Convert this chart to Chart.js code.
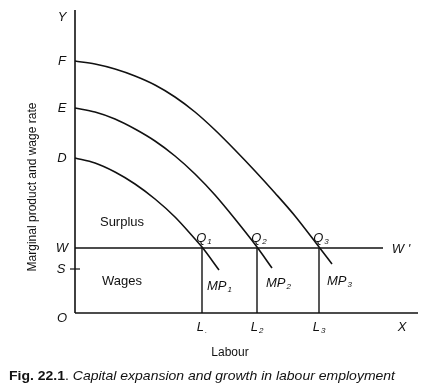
<!DOCTYPE html>
<html><head><meta charset="utf-8">
<script src="https://cdn.jsdelivr.net/npm/chart.js@4"></script>
<style>html,body{margin:0;padding:0;background:#fff}</style>
</head><body>
<canvas id="c" width="422" height="391"></canvas>
<script>
// ---- data (labour on x, marginal product / wage on y) ----
const labourD = [0, 20, 40, 60, 80, 100, 120, 127, 144];
const mpD     = [155, 150, 141, 129, 114, 96, 74, 66, 43];
const labourE = [0, 20, 40, 60, 80, 100, 120, 140, 160, 182, 197];
const mpE     = [205, 201, 194, 184, 172, 157, 139, 118, 94, 66, 45];
const labourF = [0, 20, 40, 60, 80, 100, 120, 140, 160, 180, 200, 220, 244, 257];
const mpF     = [252, 249, 244, 237, 228, 216, 201, 183, 163, 142, 120, 97, 66, 49];
const curveStartLabels = ['D', 'E', 'F'];
const curveEndLabels = ['MP', 'MP', 'MP'];
const curveSubs = ['1', '2', '3'];
const wageRate = 65;          // W
const subsistence = 44;       // S
const employment = [127, 182, 244];   // L1, L2, L3
const employmentLabels = ['L', 'L', 'L'];
const employmentSubs = ['.', '2', '3'];
const wageLineEnd = 308;
const xMax = 343, yMax = 303;

const pts = (xs, ys) => xs.map((x, i) => ({x, y: ys[i]}));
const black = '#111';
const lineDs = (data, w, extra) => Object.assign({
  data, showLine: true, borderColor: black, borderWidth: w, pointRadius: 0,
  fill: false, clip: false
}, extra || {});

const datasets = [
  lineDs([{x:0,y:0},{x:0,y:yMax}], 1.6),
  lineDs([{x:0,y:0},{x:xMax,y:0}], 1.6),
  lineDs([{x:0,y:wageRate},{x:wageLineEnd,y:wageRate}], 1.4),
  lineDs([{x:-5,y:subsistence},{x:5,y:subsistence}], 1.2),
  ...employment.map(l => lineDs([{x:l,y:0},{x:l,y:wageRate}], 1.4)),
  lineDs(pts(labourD, mpD), 1.6, {cubicInterpolationMode:'monotone'}),
  lineDs(pts(labourE, mpE), 1.6, {cubicInterpolationMode:'monotone'}),
  lineDs(pts(labourF, mpF), 1.6, {cubicInterpolationMode:'monotone'})
];

const FONT = '"Liberation Sans", Arial, Helvetica, sans-serif';

function subText(ctx, main, sub, x, y, size, align) {
  ctx.font = 'italic ' + size + 'px ' + FONT;
  const mw = ctx.measureText(main).width;
  const ss = Math.round(size * 0.65);
  ctx.font = 'italic ' + ss + 'px ' + FONT;
  const sw = ctx.measureText(sub).width;
  const total = mw + 1 + sw;
  let x0 = x;
  if (align === 'center') x0 = x - total / 2;
  else if (align === 'right') x0 = x - total;
  ctx.textAlign = 'left';
  ctx.textBaseline = 'middle';
  ctx.font = 'italic ' + size + 'px ' + FONT;
  ctx.fillText(main, x0, y);
  ctx.font = 'italic ' + ss + 'px ' + FONT;
  ctx.fillText(sub, x0 + mw + 1, y + size * 0.3);
}

const textPlugin = {
  id: 'texts',
  afterDatasetsDraw(chart) {
    const ctx = chart.ctx, xs = chart.scales.x, ys = chart.scales.y;
    const px = v => xs.getPixelForValue(v), py = v => ys.getPixelForValue(v);
    ctx.save();
    ctx.fillStyle = black;
    ctx.textBaseline = 'middle';
    const italic = (t, x, y, s, a) => {
      ctx.font = 'italic ' + s + 'px ' + FONT; ctx.textAlign = a || 'center'; ctx.fillText(t, x, y);
    };
    const plain = (t, x, y, s, a) => {
      ctx.font = s + 'px ' + FONT; ctx.textAlign = a || 'center'; ctx.fillText(t, x, y);
    };
    const ax = px(0) - 13;
    italic('Y', ax, py(yMax) + 7, 13);
    const starts = [mpD[0], mpE[0], mpF[0]];
    curveStartLabels.forEach((t, i) => italic(t, ax, py(starts[i]), 13));
    italic('W', ax, py(wageRate), 13);
    italic('S', ax - 1, py(subsistence), 13);
    italic('O', ax, py(0) + 5, 13);
    italic('X', px(xMax) - 16, py(0) + 14, 13);
    employment.forEach((l, i) => subText(ctx, employmentLabels[i], employmentSubs[i], px(l), py(0) + 14, 13, 'center'));
    employment.forEach((l, i) => subText(ctx, 'Q', curveSubs[i], px(l) + 2, py(wageRate) - 10, 13, 'center'));
    const ends = [[labourD, mpD], [labourE, mpE], [labourF, mpF]];
    const mpOff = [[-12, 16], [-6, 15], [-5, 17]];
    ends.forEach(([lx, ly], i) => {
      const n = lx.length - 1;
      subText(ctx, curveEndLabels[i], curveSubs[i], px(lx[n]) + mpOff[i][0], py(ly[n]) + mpOff[i][1], 13, 'left');
    });
    italic("W '", px(wageLineEnd) + 18, py(wageRate) + 1, 13);
    plain('Surplus', 122, py(wageRate) - 26, 13);
    plain('Wages', 122, py(wageRate) + 33, 13);
    plain('Labour', 230, 353, 12);
    // y-axis title
    ctx.save();
    ctx.translate(33, 187);
    ctx.rotate(-Math.PI / 2);
    plain('Marginal product and wage rate', 0, 0, 12);
    ctx.restore();
    // caption
    const y = 376;
    const parts = [
      ['bold 13px ' + FONT, 'Fig. 22.1'],
      ['13px ' + FONT, '. '],
      ['italic 13px ' + FONT, 'Capital expansion and growth in labour employment']
    ];
    let w = 0;
    parts.forEach(p => { ctx.font = p[0]; w += ctx.measureText(p[1]).width; });
    const sx = 386 / w;
    ctx.save();
    ctx.translate(9, y);
    ctx.scale(sx, 1);
    let cx = 0;
    ctx.textAlign = 'left';
    parts.forEach(p => { ctx.font = p[0]; ctx.fillText(p[1], cx, 0); cx += ctx.measureText(p[1]).width; });
    ctx.restore();
    ctx.restore();
  }
};

new Chart(document.getElementById('c'), {
  type: 'scatter',
  data: { datasets },
  options: {
    responsive: false, animation: false, devicePixelRatio: 1,
    layout: { padding: { left: 75, right: 4, top: 10, bottom: 78 } },
    plugins: { legend: { display: false }, tooltip: { enabled: false } },
    scales: {
      x: { type: 'linear', min: 0, max: xMax, display: false },
      y: { type: 'linear', min: 0, max: yMax, display: false }
    }
  },
  plugins: [textPlugin]
});
</script>
</body></html>
